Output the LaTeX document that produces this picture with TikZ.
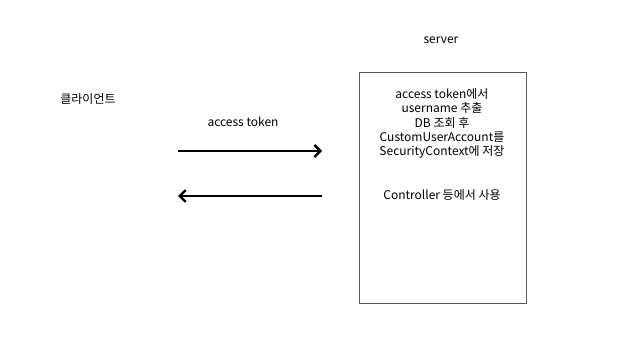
\documentclass[tikz,border=0pt]{standalone}
\usepackage{fontspec}
\setmainfont{Noto Sans CJK KR}
\usetikzlibrary{arrows.meta}
\begin{document}
\begin{tikzpicture}[x=1pt,y=-1pt,
  lbl/.style={font=\fontsize{12}{14.3}\selectfont, inner sep=0pt, align=center},
  flow/.style={line width=2.6pt, -{Straight Barb[length=6pt,width=12pt,line width=2.4pt]}}]
\useasboundingbox[fill=white] (0,0) rectangle (641,361);
\node[draw=black!65, line width=0.8pt, minimum width=167pt, minimum height=231pt, inner sep=0pt] (server) at (442.5,187.5) {};
\node[lbl] (servertitle) at (441,40) {server};
\node[lbl] (client) at (88,99) {클라이언트};
\node[lbl] (tok) at (243,122) {access token};
\node[lbl] (desc) at (442,123.5) {access token에서\\username 추출\\DB 조회 후\\CustomUserAccount를\\SecurityContext에 저장};
\node[lbl] (ctrl) at (442,195) {Controller 등에서 사용};
\coordinate (a1s) at (178,151);
\coordinate (a1e) at (322,151);
\coordinate (a2s) at (322,196);
\coordinate (a2e) at (178,196);
\draw[flow] (a1s) -- (a1e);
\draw[flow] (a2s) -- (a2e);
\end{tikzpicture}
\end{document}
